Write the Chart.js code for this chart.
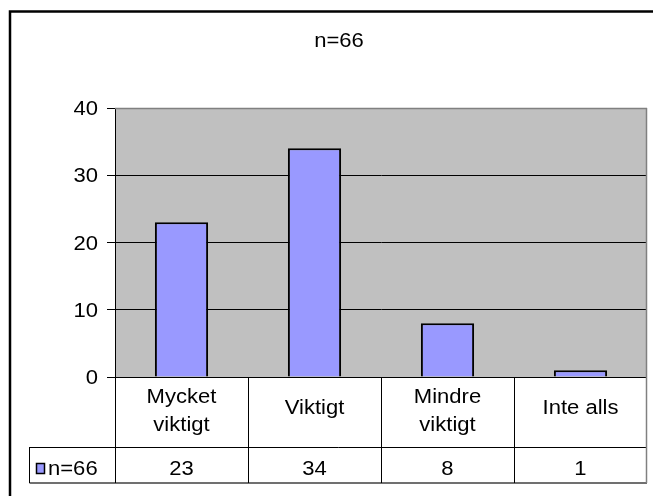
<!DOCTYPE html>
<html>
<head>
<meta charset="utf-8">
<script src="https://cdn.jsdelivr.net/npm/chart.js@4.4.1/dist/chart.umd.min.js"></script>
<style>
  body { margin: 0; background: #fff; }
  canvas { display: block; }
</style>
</head>
<body>
<canvas id="chart" width="653" height="496"></canvas>
<script>
// data
const titleText = 'n=66';
const categories = [['Mycket', 'viktigt'], ['Viktigt'], ['Mindre', 'viktigt'], ['Inte alls']];
const seriesName = 'n=66';
const values = [23, 34, 8, 1];
const yTicks = [0, 10, 20, 30, 40];

const FONT = '"Liberation Sans", Arial, sans-serif';
const FONT_SIZE = 19.5;
const STRETCH = 1.13;  // the original text is a bit wider than Arial

// draw text slightly stretched sideways, like the reference
function drawText(ctx, text, x, y, align) {
  ctx.save();
  ctx.translate(x, y);
  ctx.scale(STRETCH, 1);
  ctx.font = FONT_SIZE + 'px ' + FONT;
  ctx.fillStyle = '#000';
  ctx.textAlign = align || 'center';
  ctx.textBaseline = 'alphabetic';
  ctx.fillText(text, 0, 0);
  ctx.restore();
}

function hLine(ctx, x1, x2, y, color, w) {
  ctx.beginPath();
  ctx.strokeStyle = color;
  ctx.lineWidth = w;
  ctx.moveTo(x1, y);
  ctx.lineTo(x2, y);
  ctx.stroke();
}

function vLine(ctx, x, y1, y2, color, w) {
  ctx.beginPath();
  ctx.strokeStyle = color;
  ctx.lineWidth = w;
  ctx.moveTo(x, y1);
  ctx.lineTo(x, y2);
  ctx.stroke();
}

const excelLook = {
  id: 'excelLook',
  beforeDraw(chart) {
    const ctx = chart.ctx;
    const a = chart.chartArea;
    // grey plot area
    ctx.save();
    ctx.fillStyle = '#C0C0C0';
    ctx.fillRect(a.left, a.top, a.right - a.left, a.bottom - a.top);
    ctx.restore();
  },
  afterDraw(chart) {
    const ctx = chart.ctx;
    const a = chart.chartArea;
    const x = chart.scales.x;
    const y = chart.scales.y;

    // outer frame (runs off the picture at right and bottom)
    ctx.save();
    ctx.strokeStyle = '#000';
    ctx.lineWidth = 2.5;
    ctx.strokeRect(10, 11.5, 700, 600);

    // plot border top/right in grey
    hLine(ctx, a.left, a.right, a.top + 0.5, '#808080', 1.5);
    vLine(ctx, a.right - 0.5, a.top, a.bottom, '#808080', 1.5);

    // title
    drawText(ctx, titleText, 339, 47);

    // y tick labels
    yTicks.forEach(v => {
      drawText(ctx, String(v), 98, y.getPixelForValue(v) + 7, 'right');
    });

    // data table
    const colW = (a.right - a.left) / categories.length;
    const rowTop = a.bottom;
    const rowMid = 447;
    const rowBot = 483;
    const tableLeft = 29.5;

    hLine(ctx, tableLeft, a.right, rowMid + 0.5, '#000', 1);
    hLine(ctx, tableLeft, a.right, rowBot, '#707070', 2);
    vLine(ctx, tableLeft, rowMid, rowBot, '#000', 1);
    vLine(ctx, a.left + 0.5, rowTop, rowBot, '#000', 1);
    for (let i = 1; i < categories.length; i++) {
      const bx = Math.round(x.getPixelForValue(i) - colW / 2) + 0.5;
      vLine(ctx, bx, rowTop, rowBot, '#000', 1);
    }
    vLine(ctx, a.right - 0.5, rowTop, rowBot, '#808080', 1.5);

    categories.forEach((lines, i) => {
      const cx = x.getPixelForValue(i);
      if (lines.length === 1) {
        drawText(ctx, lines[0], cx, 413.5);
      } else {
        drawText(ctx, lines[0], cx, 403);
        drawText(ctx, lines[1], cx, 431);
      }
      drawText(ctx, String(values[i]), cx, 474.5);
    });

    // legend key in the table
    ctx.fillStyle = '#9999FF';
    ctx.fillRect(36.5, 463.5, 8, 10);
    ctx.strokeStyle = '#000';
    ctx.lineWidth = 1.5;
    ctx.strokeRect(36.5, 463.5, 8, 10);
    drawText(ctx, seriesName, 48, 475, 'left');
    ctx.restore();
  }
};

const ctx = document.getElementById('chart').getContext('2d');
new Chart(ctx, {
  type: 'bar',
  data: {
    labels: categories,
    datasets: [{
      label: seriesName,
      data: values,
      backgroundColor: '#9999FF',
      borderColor: '#000',
      borderWidth: 2,
      categoryPercentage: 1,
      barPercentage: 0.4
    }]
  },
  options: {
    responsive: false,
    animation: false,
    devicePixelRatio: 1,
    layout: { padding: { top: 108, right: 6, bottom: 119, left: 0 } },
    plugins: {
      legend: { display: false },
      title: { display: false },
      tooltip: { enabled: false }
    },
    scales: {
      x: {
        ticks: { display: false },
        grid: { display: false, drawTicks: false },
        border: { display: false },
        afterFit(scale) { scale.height = 0; }
      },
      y: {
        min: 0,
        max: 40,
        ticks: { display: false, stepSize: 10 },
        grid: {
          color: c => (c.tick && c.tick.value === 40 ? '#808080' : '#000'),
          tickColor: '#000',
          tickLength: 8,
          lineWidth: 1
        },
        border: { color: '#000', width: 1 },
        afterFit(scale) { scale.width = 115; }
      }
    }
  },
  plugins: [excelLook]
});
</script>
</body>
</html>
